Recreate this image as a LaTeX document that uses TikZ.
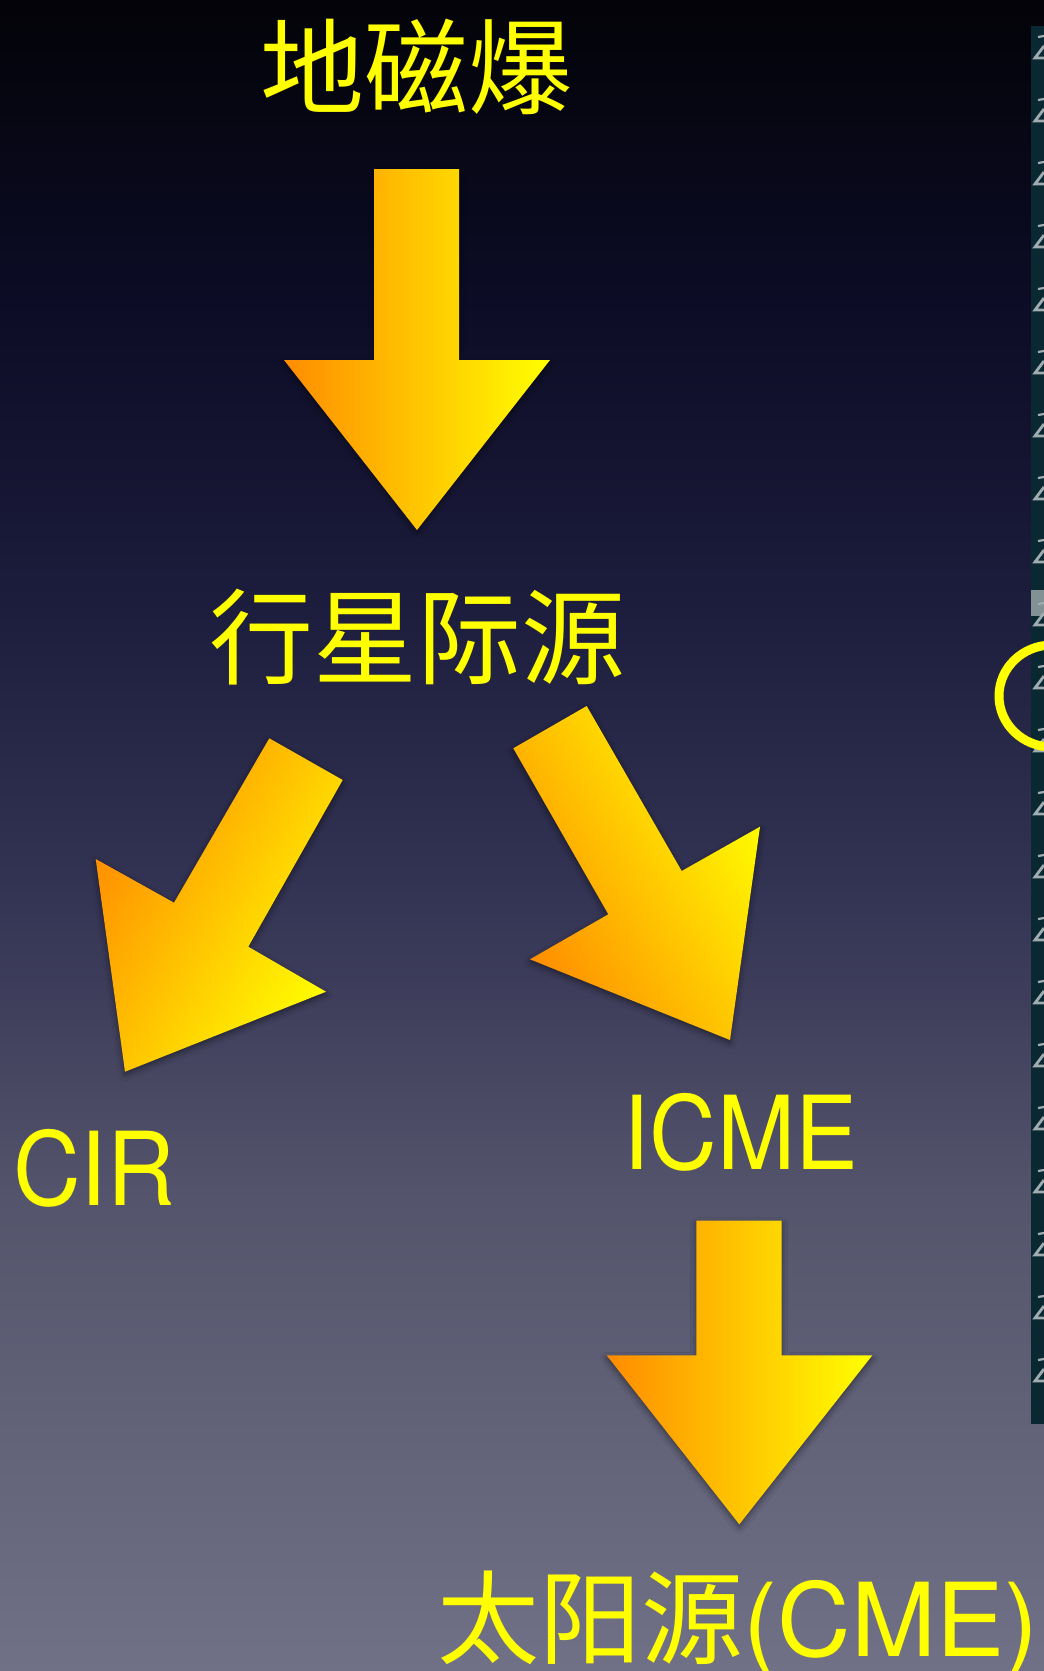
\documentclass[tikz,border=0pt]{standalone}
\usepackage{fontspec}
\setmainfont{TeX Gyre Heros}
\newfontfamily\narrowlat[FakeStretch=0.92]{TeX Gyre Heros}
\newfontfamily\cjk{Noto Sans CJK SC}
\usetikzlibrary{shadows.blur}
\definecolor{bgA}{RGB}{3,3,8}
\definecolor{bgB}{RGB}{12,12,38}
\definecolor{bgC}{RGB}{28,28,60}
\definecolor{bgD}{RGB}{52,52,84}
\definecolor{bgE}{RGB}{84,84,108}
\definecolor{bgF}{RGB}{112,112,134}
\definecolor{arrowor}{RGB}{255,140,0}
\definecolor{arrowye}{RGB}{255,255,0}
\definecolor{txtye}{RGB}{255,255,0}
\definecolor{stripcol}{RGB}{10,40,50}
\definecolor{stripgrey}{RGB}{130,145,148}
\definecolor{glyphcol}{RGB}{160,172,176}
\pgfdeclareverticalshading{bgshade}{100bp}{color(0bp)=(bgF); color(25bp)=(bgF); color(39.09bp)=(bgE); color(48.07bp)=(bgD); color(57.05bp)=(bgC); color(66.02bp)=(bgB); color(75bp)=(bgA); color(100bp)=(bgA)}
\begin{document}
\begin{tikzpicture}[x=0.5pt,y=-0.5pt,
  cjklbl/.style={text=txtye, inner sep=0pt, font=\cjk\fontsize{52pt}{60pt}\selectfont},
  latlbl/.style={text=txtye, inner sep=0pt, font=\narrowlat\fontsize{51pt}{60pt}\selectfont},
  mixlbl/.style={text=txtye, inner sep=0pt, font=\fontsize{51pt}{60pt}\selectfont},
  blockarrow/.style={blur shadow={shadow blur steps=6, shadow xshift=0pt, shadow yshift=-1.5pt, shadow blur radius=3pt, shadow opacity=45}},
  vshade/.style={left color=arrowor, right color=arrowye},
  dshade/.style={top color=arrowor, bottom color=arrowye, shading angle=#1}]
\useasboundingbox (0,0) rectangle (1044,1671);
\clip (0,0) rectangle (1044,1671);
\shade[shading=bgshade] (0,0) rectangle (1044,1671);

% right screenshot strip
\fill[stripcol] (1031,26) rectangle (1044,1424);
\fill[stripgrey] (1031,590) rectangle (1044,616);
\foreach \k in {0,...,21} {
  \pgfmathsetmacro\yy{37+63*\k}
  \draw[glyphcol, line width=1.1pt] (1038,\yy) -- (1044,{\yy-1});
  \draw[glyphcol, line width=1.4pt] (1044,{\yy+9}) -- (1035,{\yy+21}) -- (1044,{\yy+21});
}
\draw[txtye, line width=4.5pt] (1052,696) ellipse [x radius=53, y radius=51];

% arrows
\shade[blockarrow, vshade] (374,169) -- (459,169) -- (459,360) -- (550,360) -- (417,530) -- (284,360) -- (374,360) -- cycle;
\shade[blockarrow, dshade=60] (269.3,738.3) -- (342.7,780) -- (248.3,946.7) -- (326,991.7) -- (125,1071.7) -- (95.7,859) -- (174,902.7) -- cycle;
\shade[blockarrow, dshade=120] (513.3,748.3) -- (586.7,706) -- (681.7,871) -- (760,826.7) -- (730,1040) -- (530,959.3) -- (608.3,914.3) -- cycle;
\shade[blockarrow, vshade] (696.3,1220.7) -- (781.7,1220.7) -- (781.7,1355.3) -- (872.3,1355.3) -- (739.3,1524.3) -- (606.7,1355.3) -- (696.3,1355.3) -- cycle;

% labels
\node[cjklbl, anchor=base] (geo) at (416,106) {地磁爆};
\node[cjklbl, anchor=base] (ips) at (417,676) {行星际源};
\node[latlbl, anchor=base] (cir) at (94,1205) {CIR};
\node[latlbl, anchor=base] (icme) at (741,1169) {ICME};
\node[mixlbl, anchor=base] (sol) at (738,1656) {{\cjk 太阳源}(CME)};
\end{tikzpicture}
\end{document}
